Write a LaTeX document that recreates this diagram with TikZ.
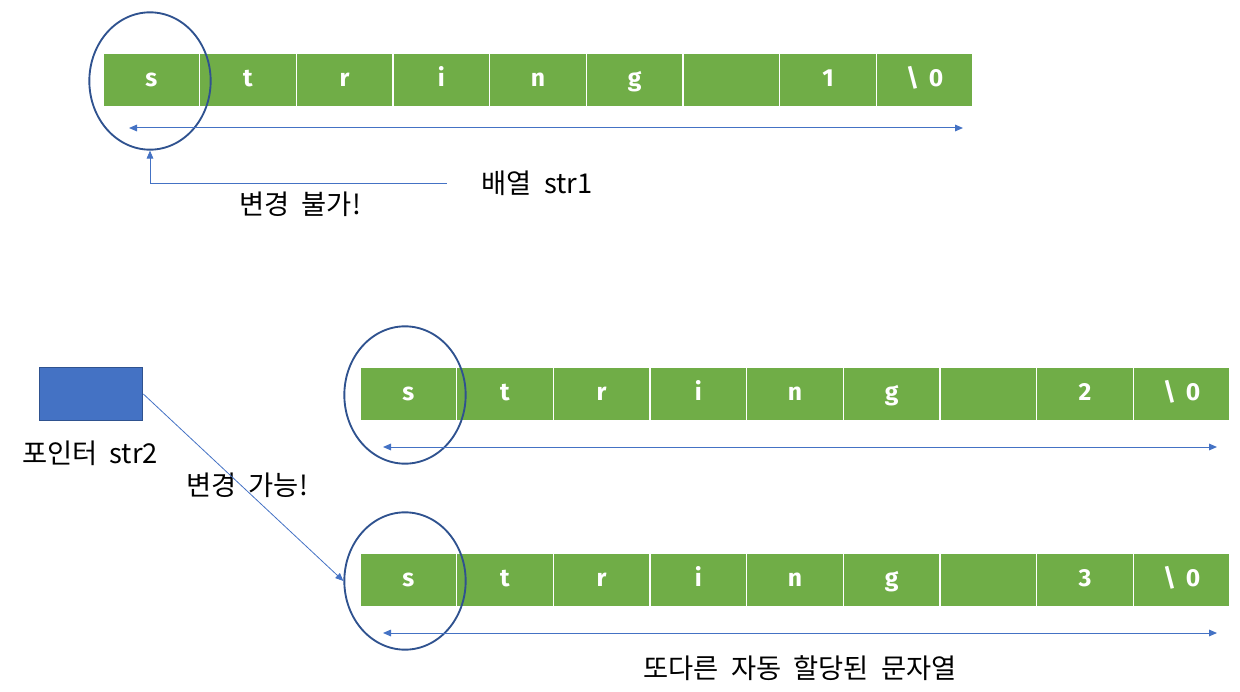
\documentclass[tikz,border=0pt]{standalone}
\usepackage{fontspec}
\setmainfont{Open Sans}
\newfontfamily\cellfont{Fira Sans}
\newfontfamily\kofont{Noto Sans CJK KR}[WordSpace=2]
\usetikzlibrary{arrows.meta, shapes.geometric, positioning}
\definecolor{cellgreen}{RGB}{112,173,71}
\definecolor{ptrblue}{RGB}{68,114,196}
\definecolor{ringblue}{RGB}{47,82,143}

\begin{document}
\begin{tikzpicture}[x=0.75pt, y=-0.75pt,
  cell/.style={draw=white, line width=1.1pt, fill=cellgreen, inner sep=0pt,
    minimum width=72.5pt, minimum height=40.5pt, text=white,
    text height=10pt, text depth=0pt,
    font=\cellfont\bfseries\fontsize{18.5}{21}\selectfont},
  ring/.style={ellipse, draw=ringblue, line width=1.4pt, inner sep=0pt,
    minimum width=91pt, minimum height=103pt},
  span/.style={{Triangle[length=6pt, width=5pt]}-{Triangle[length=6pt, width=5pt]},
    ptrblue, line width=0.75pt},
  pointy/.style={-{Triangle[length=6pt, width=5pt]}, ptrblue, line width=0.6pt},
  lbl/.style={font=\kofont\fontsize{20.5}{24}\selectfont, inner sep=0pt}]
  \useasboundingbox (0,0) rectangle (1240,692);

  % Top: array str1
  \foreach \t [count=\i] in {s,t,r,i,n,g,{},1,{\textbackslash\,\ 0}}
    \node[cell] (a\i) at ({103+96.67*(\i-0.5)},80) {\t};
  \node[ring] (ring1) at (150,81) {};
  \coordinate (s1l) at (129,128);
  \coordinate (s1r) at (963,128);
  \draw[span] (s1l) -- (s1r);
  \node[lbl] (arr1) at (537,183) {배열 str1};
  \node[lbl] (nochg) at (300,204) {변경 불가!};
  \draw[pointy] ([xshift=-26pt]arr1.west) -| (ring1.south);

  % Middle: array pointed to first
  \foreach \t [count=\i] in {s,t,r,i,n,g,{},2,{\textbackslash\,\ 0}}
    \node[cell] (b\i) at ({360+96.67*(\i-0.5)},394) {\t};
  \node[ring] (ring2) at (405,395) {};
  \coordinate (s2l) at (383,447);
  \coordinate (s2r) at (1217,447);
  \draw[span] (s2l) -- (s2r);

  % Bottom: another auto-allocated array
  \foreach \t [count=\i] in {s,t,r,i,n,g,{},3,{\textbackslash\,\ 0}}
    \node[cell] (c\i) at ({360+96.67*(\i-0.5)},580) {\t};
  \node[ring] (ring3) at (405,581) {};
  \coordinate (s3l) at (383,633);
  \coordinate (s3r) at (1217,633);
  \draw[span] (s3l) -- (s3r);
  \node[lbl] (other) at (800,668) {또다른 자동 할당된 문자열};

  % Left: pointer str2
  \node[draw=ringblue, line width=1pt, fill=ptrblue, minimum width=77.5pt,
    minimum height=40pt, inner sep=0pt] (ptr) at (91,394) {};
  \node[lbl] (ptrname) at (90,453) {포인터 str2};
  \node[lbl] (canchg) at (247,485) {변경 가능!};
  \draw[pointy] (ptr.east) -- (ring3.west);
\end{tikzpicture}
\end{document}
